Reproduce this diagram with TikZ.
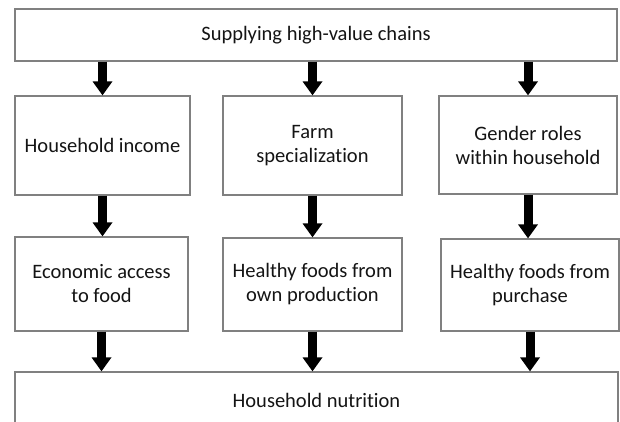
\documentclass[tikz,border=0pt]{standalone}
\usepackage{fontspec}
\setmainfont{Carlito}[Ligatures=NoCommon]
\usetikzlibrary{arrows.meta}
\begin{document}
\begin{tikzpicture}[x=1pt,y=-1pt,
  box/.style={draw=black!50, line width=1.2pt, fill=white, inner sep=2pt, align=center,
    text=black!92, font=\fontsize{20.5}{24}\selectfont},
  bigarrow/.style={draw=black, line width=9pt, -{Triangle[width=19pt,length=14pt]}}]
\clip (0,0) rectangle (620,422);
\fill[white] (0,0) rectangle (620,422);
\node[box, minimum width=602pt, minimum height=52pt] (top) at (316,35) {Supplying high-value chains};
\node[box, minimum width=175pt, minimum height=99pt] (b1) at (102.5,145.5) {Household income};
\node[box, minimum width=179pt, minimum height=99pt] (b2) at (312.5,145.5) {Farm\\specialization};
\node[box, minimum width=178pt, minimum height=98pt] (b3) at (528,145) {Gender roles\\within household};
\node[box, minimum width=173pt, minimum height=94pt] (c1) at (101.5,284) {Economic access\\to food};
\node[box, minimum width=179pt, minimum height=93pt] (c2) at (312.5,284.5) {Healthy foods from\\own production};
\node[box, minimum width=178pt, minimum height=92pt] (c3) at (530,285) {Healthy foods from\\purchase};
\node[box, minimum width=603pt, minimum height=56pt] (bot) at (316.5,400) {Household nutrition};
\draw[bigarrow] (top.south -| b1.north) -- (b1.north);
\draw[bigarrow] (top.south -| b2.north) -- (b2.north);
\draw[bigarrow] (top.south -| b3.north) -- (b3.north);
\draw[bigarrow] (b1.south) -- (c1.north -| b1.south);
\draw[bigarrow] (b2.south) -- (c2.north -| b2.south);
\draw[bigarrow] (b3.south) -- (c3.north -| b3.south);
\draw[bigarrow] (c1.south) -- (bot.north -| c1.south);
\draw[bigarrow] (c2.south) -- (bot.north -| c2.south);
\draw[bigarrow] (c3.south) -- (bot.north -| c3.south);
\end{tikzpicture}
\end{document}
